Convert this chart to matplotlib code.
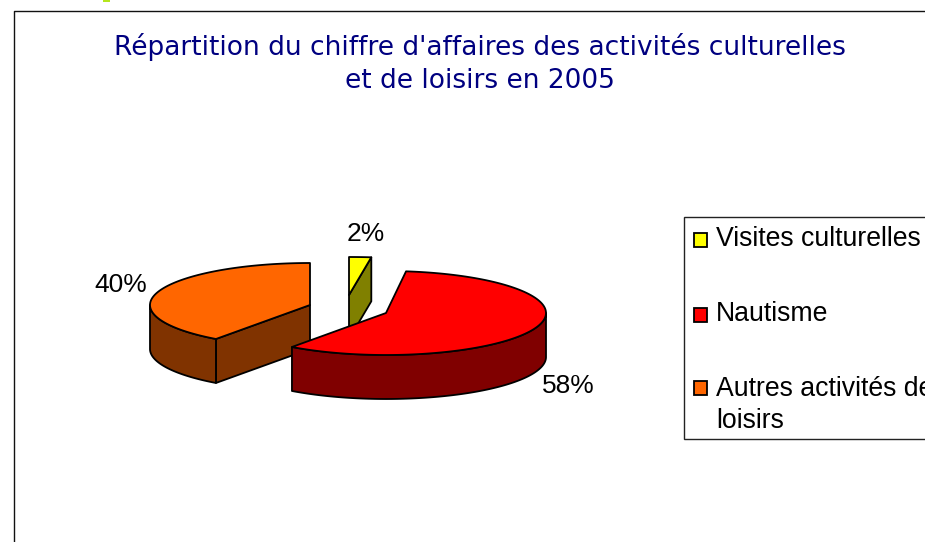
import numpy as np
import matplotlib
matplotlib.use("Agg")
import matplotlib.pyplot as plt
from matplotlib.patches import Polygon, Rectangle

# Data
categories = ["Visites culturelles", "Nautisme", "Autres activités de\nloisirs"]
shares = [2, 58, 40]
title = "Répartition du chiffre d'affaires des activités culturelles\net de loisirs en 2005"

# Styles
top_colors = ["#FFFF00", "#FF0000", "#FF6600"]
side_colors = ["#808000", "#800000", "#803300"]
centers = [(349, 295), (386, 313), (310, 305)]
radii = [(178, 38), (160, 42), (160, 42)]
label_pos = [(366, 234), (568, 386), (121, 285)]
depth = 44
draw_order = [2, 0, 1]
legend_keys_y = [240, 314.5, 388]
legend_text_y = [239, 314, 405]
LW = 1.3

fig = plt.figure(figsize=(9.25, 5.42), dpi=100)
ax = fig.add_axes([0, 0, 1, 1])
ax.set_xlim(0, 925)
ax.set_ylim(542, 0)
ax.axis("off")

sans = "Liberation Sans"

# chart frame and stray mark at the top edge
ax.plot([14, 14, 925], [542, 11, 11], color="#111111", lw=1.0, zorder=1)
ax.add_patch(Rectangle((103, 0), 7, 1.5, fc="#B5E61D", ec="none", zorder=1))

ax.text(480, 63.5, title, ha="center", va="center", color="#000080",
        fontsize=19, family="DejaVu Sans", linespacing=1.35, zorder=3)


def arc(c, r, a0, a1, n=120):
    t = np.radians(np.linspace(a0, a1, n))
    return np.column_stack([c[0] + r[0] * np.sin(t), c[1] - r[1] * np.cos(t)])


fractions = np.array(shares, dtype=float) / sum(shares)
edges = np.concatenate([[0], np.cumsum(fractions)]) * 360

z = 5
for i in draw_order:
    a0, a1 = edges[i], edges[i + 1]
    c, r = centers[i], radii[i]
    # cut faces turned towards the viewer
    for a, visible in ((a0, 180 < a0 < 360), (a1, 0 < a1 < 180)):
        if visible:
            p = arc(c, r, a, a, 1)[0]
            quad = [c, p, (p[0], p[1] + depth), (c[0], c[1] + depth)]
            ax.add_patch(Polygon(quad, closed=True, fc=side_colors[i], ec="black",
                                 lw=LW, joinstyle="round", zorder=z))
    # outer wall (front half of the rim only)
    f0, f1 = max(a0, 90), min(a1, 270)
    if f1 > f0:
        upper = arc(c, r, f0, f1)
        lower = upper[::-1] + [0, depth]
        ax.add_patch(Polygon(np.vstack([upper, lower]), closed=True, fc=side_colors[i],
                             ec="black", lw=LW, joinstyle="round", zorder=z))
    # top face
    ax.add_patch(Polygon(np.vstack([[c], arc(c, r, a0, a1)]), closed=True, fc=top_colors[i],
                         ec="black", lw=LW, joinstyle="round", zorder=z + 0.5))
    z += 1

for v, (x, y) in zip(shares, label_pos):
    ax.text(x, y, f"{v}%", ha="center", va="center", fontsize=19, family=sans,
            color="black", zorder=20)

# legend
ax.add_patch(Rectangle((684, 217), 300, 222, fc="white", ec="#222222", lw=1.0, zorder=2))
for name, color, ky, ty in zip(categories, top_colors, legend_keys_y, legend_text_y):
    ax.add_patch(Rectangle((693.5, ky - 7), 13.5, 14, fc=color, ec="black", lw=1.3, zorder=3))
    ax.text(716, ty, name, ha="left", va="center", fontsize=19.2, family=sans,
            color="black", linespacing=1.32, zorder=3)

fig.savefig("out.png", dpi=100)
